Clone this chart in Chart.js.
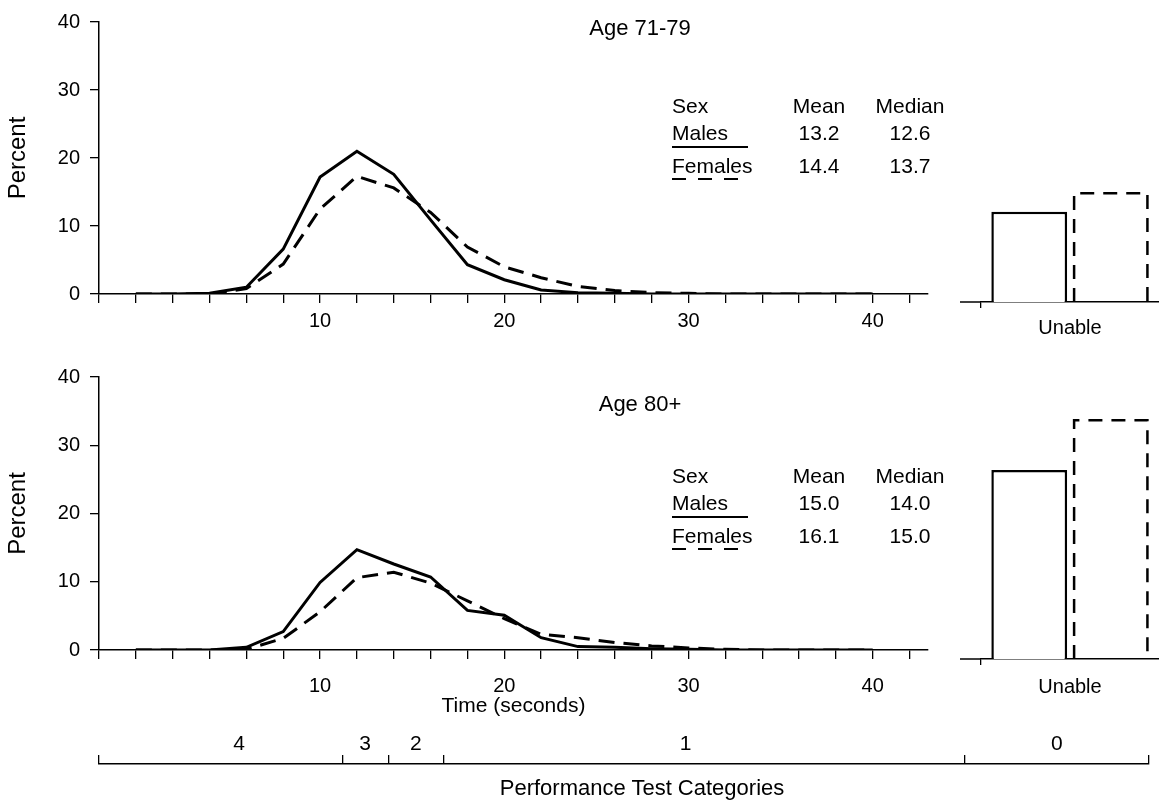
<!DOCTYPE html>
<html>
<head>
<meta charset="utf-8">
<title>Chair stand time by age</title>
<script src="https://cdn.jsdelivr.net/npm/chart.js@4.4.1/dist/chart.umd.min.js"></script>
<style>
  html, body { margin: 0; padding: 0; background: #fff; }
  body { position: relative; width: 1159px; height: 810px; overflow: hidden;
         font-family: "Liberation Sans", Arial, Helvetica, sans-serif; color: #000; }
  canvas { position: absolute; }
  .t { position: absolute; white-space: nowrap; line-height: 1; }
  .c { transform: translateX(-50%); }
  .regua { position: absolute; height: 2px; background: #000; }
  .regua.tracejada { background: repeating-linear-gradient(90deg, #000 0 14px, transparent 14px 26px); }
</style>
</head>
<body>
<canvas id="linhaTopo" width="940" height="340" style="left:0;top:0"></canvas>
<canvas id="barraTopo" width="219" height="345" style="left:940px;top:0"></canvas>
<canvas id="linhaBase" width="940" height="370" style="left:0;top:355px"></canvas>
<canvas id="barraBase" width="219" height="345" style="left:940px;top:355px"></canvas>
<canvas id="categorias" width="1159" height="80" style="left:0;top:730px"></canvas>
<script>
// Tempo em segundos (eixo x) e percentuais
var tempos = [0, 2, 4, 6, 8, 10, 12, 14, 16, 18, 20, 22, 24, 26, 28, 30, 32, 34, 36, 38, 40];

var homens7179   = [0, 0, 0.1, 1.0, 6.6, 17.2, 21.0, 17.6, 10.9, 4.3, 2.1, 0.6, 0.2, 0.1, 0, 0, 0, 0, 0, 0, 0];
var mulheres7179 = [0, 0, 0, 0.8, 4.4, 12.5, 17.3, 15.6, 12.0, 6.9, 4.0, 2.4, 1.1, 0.5, 0.2, 0.1, 0, 0, 0, 0, 0];
var homens80     = [0, 0, 0, 0.4, 2.7, 9.9, 14.7, 12.6, 10.7, 5.8, 5.1, 1.8, 0.5, 0.4, 0.2, 0.1, 0, 0, 0, 0, 0];
var mulheres80   = [0, 0, 0, 0.1, 1.7, 5.6, 10.6, 11.4, 9.8, 7.2, 4.6, 2.3, 1.8, 1.1, 0.6, 0.3, 0.1, 0, 0, 0, 0];

// Percentual "Unable" [homens, mulheres]
var incapazes7179 = [13.2, 16.1];
var incapazes80   = [27.5, 34.9];

// Tabela de médias e medianas
var sexos = ['Males', 'Females'];
var media7179   = ['13.2', '14.4'];
var mediana7179 = ['12.6', '13.7'];
var media80     = ['15.0', '16.1'];
var mediana80   = ['14.0', '15.0'];

// Categorias do teste de desempenho
var nomesCategorias  = ['4', '3', '2', '1', '0'];
var limitesCategorias = [[0, 11.2], [11.2, 13.7], [13.7, 16.7], [16.7, 43], [45, 55]];
var cortesCategorias = [-2, 11.2, 13.7, 16.7, 45, 55];
var centrosCategorias = limitesCategorias.map(function (l) { return (l[0] + l[1]) / 2; });

Chart.defaults.font.family = '"Liberation Sans", Arial, Helvetica, sans-serif';
Chart.defaults.color = '#000';
Chart.defaults.animation = false;

function graficoLinhas(id, homens, mulheres, opts) {
  return new Chart(document.getElementById(id), {
    type: 'line',
    data: {
      labels: tempos,
      datasets: [
        { label: 'Males', data: homens, borderColor: '#000', borderWidth: 3, pointRadius: 0, tension: 0, fill: false },
        { label: 'Females', data: mulheres, borderColor: '#000', borderWidth: 3, borderDash: [16, 9], pointRadius: 0, tension: 0, fill: false }
      ]
    },
    options: {
      responsive: false,
      animation: false,
      layout: { padding: { top: 20, right: 12, left: 0, bottom: 0 } },
      plugins: { legend: { display: false }, tooltip: { enabled: false } },
      scales: {
        x: {
          type: 'linear', min: -2, max: 43,
          border: { display: true, color: '#000', width: 1.5 },
          grid: { drawOnChartArea: false, drawTicks: true, tickLength: 9, color: '#000', lineWidth: 1.3 },
          ticks: {
            stepSize: 2, includeBounds: false, autoSkip: false, maxRotation: 0,
            padding: opts.padX, font: { size: 20 },
            callback: function (v) { return v > 0 && v % 10 === 0 ? v : ''; }
          },
          title: opts.titulo
            ? { display: true, text: opts.titulo, font: { size: 21 }, padding: { top: 0, bottom: 6.4 } }
            : { display: false },
          afterFit: function (s) { s.height = opts.alturaX; }
        },
        y: {
          min: 0, max: 40,
          border: { display: true, color: '#000', width: 1.5 },
          grid: { drawOnChartArea: false, drawTicks: true, tickLength: 9, color: '#000', lineWidth: 1.3 },
          ticks: { stepSize: 10, padding: 10, font: { size: 20 } },
          title: { display: true, text: 'Percent', font: { size: 24 }, padding: { top: 4, bottom: 0 } },
          afterFit: function (s) { s.width = 99; }
        }
      }
    }
  });
}

// contorno tracejado da barra das mulheres
var barraTracejada = {
  id: 'barraTracejada',
  afterDatasetsDraw: function (chart) {
    var c = chart.ctx;
    chart.getDatasetMeta(1).data.forEach(function (bar) {
      var p = bar.getProps(['x', 'y', 'base', 'width'], true);
      var l = p.x - p.width / 2 + 1.25, r = p.x + p.width / 2 - 1.25, t = p.y + 1.25;
      c.save();
      c.setLineDash([14, 9]);
      c.lineWidth = 2.5;
      c.strokeStyle = '#000';
      c.beginPath();
      c.moveTo(l, p.base); c.lineTo(l, t); c.lineTo(r, t); c.lineTo(r, p.base);
      c.stroke();
      c.restore();
    });
  }
};

// pedaço do eixo à esquerda do primeiro tique
var tocoEixo = {
  id: 'tocoEixo',
  afterDraw: function (chart) {
    var a = chart.chartArea, c = chart.ctx;
    c.save();
    c.strokeStyle = '#000';
    c.lineWidth = 1.5;
    c.beginPath(); c.moveTo(a.left - 21, a.bottom); c.lineTo(a.left, a.bottom); c.stroke();
    c.restore();
  }
};

function graficoBarras(id, valores, topo, alturaX, padX) {
  return new Chart(document.getElementById(id), {
    type: 'bar',
    data: {
      labels: ['Unable'],
      datasets: [
        { label: 'Males', data: [valores[0]], backgroundColor: '#fff', borderColor: '#000', borderWidth: 2.5 },
        { label: 'Females', data: [valores[1]], backgroundColor: 'rgba(0,0,0,0)', borderWidth: 0 }
      ]
    },
    options: {
      responsive: false,
      animation: false,
      layout: { padding: { top: topo, left: 41, right: 0, bottom: 0 } },
      datasets: { bar: { categoryPercentage: 0.916, barPercentage: 0.93 } },
      plugins: { legend: { display: false }, tooltip: { enabled: false } },
      scales: {
        x: {
          border: { display: true, color: '#000', width: 1.5 },
          grid: {
            offset: true, drawOnChartArea: false, tickLength: 6, lineWidth: 1.3,
            color: function (c) { return c.index === 0 ? '#000' : 'rgba(0,0,0,0)'; }
          },
          ticks: { padding: padX, font: { size: 20 } },
          afterFit: function (s) { s.height = alturaX; }
        },
        y: { display: false, min: 0, max: 40 }
      }
    },
    plugins: [barraTracejada, tocoEixo]
  });
}

graficoLinhas('linhaTopo', homens7179, mulheres7179, { padX: 6.5, alturaX: 46 });
graficoLinhas('linhaBase', homens80, mulheres80, { padX: 15.5, alturaX: 75, titulo: 'Time (seconds)' });
graficoBarras('barraTopo', incapazes7179, 28.4, 43, 8);
graficoBarras('barraBase', incapazes80, 29, 41, 10);

// régua das categorias
new Chart(document.getElementById('categorias'), {
  type: 'scatter',
  data: { datasets: [] },
  options: {
    responsive: false,
    animation: false,
    layout: { padding: { left: 99, right: 10, top: 0, bottom: 0 } },
    plugins: { legend: { display: false }, tooltip: { enabled: false } },
    scales: {
      x: {
        type: 'linear', position: 'bottom', min: -2, max: 55,
        border: { display: true, color: '#000', width: 1.5 },
        grid: { drawOnChartArea: true, drawTicks: false, color: '#000', lineWidth: 1.3 },
        ticks: { display: false },
        afterBuildTicks: function (s) { s.ticks = cortesCategorias.map(function (v) { return { value: v }; }); },
        afterFit: function (s) { s.height = 46; }
      },
      x2: {
        type: 'linear', axis: 'x', position: 'top', min: -2, max: 55,
        border: { display: false },
        grid: { display: false },
        ticks: {
          autoSkip: false, maxRotation: 0, padding: -10, font: { size: 21 },
          callback: function (v, i) { return nomesCategorias[i]; }
        },
        afterBuildTicks: function (s) { s.ticks = centrosCategorias.map(function (v) { return { value: v }; }); },
        afterFit: function (s) { s.height = 25; }
      },
      y: { display: false, min: 0, max: 1 }
    }
  }
});

// textos fora dos gráficos
function texto(conteudo, x, base, tamanho, centro) {
  var d = document.createElement('div');
  d.className = 't' + (centro ? ' c' : '');
  d.textContent = conteudo;
  d.style.left = x + 'px';
  d.style.top = (base - 0.8465 * tamanho) + 'px';
  d.style.fontSize = tamanho + 'px';
  document.body.appendChild(d);
}

function regua(x, y, largura, tracejada) {
  var d = document.createElement('div');
  d.className = 'regua' + (tracejada ? ' tracejada' : '');
  d.style.left = x + 'px';
  d.style.top = y + 'px';
  d.style.width = largura + 'px';
  document.body.appendChild(d);
}

function tabela(desloc, medias, medianas) {
  texto('Sex', 672, 113 + desloc, 21, false);
  texto('Mean', 819, 113 + desloc, 21, true);
  texto('Median', 910, 113 + desloc, 21, true);
  var bases = [140, 173];
  for (var i = 0; i < sexos.length; i++) {
    texto(sexos[i], 672, bases[i] + desloc, 21, false);
    texto(medias[i], 819, bases[i] + desloc, 21, true);
    texto(medianas[i], 910, bases[i] + desloc, 21, true);
  }
  regua(672, 146 + desloc, 76, false);
  regua(672, 178 + desloc, 70, true);
}

texto('Age 71-79', 640, 36, 22, true);
texto('Age 80+', 640, 412, 22, true);
tabela(0, media7179, mediana7179);
tabela(370, media80, mediana80);
texto('Performance Test Categories', 642, 796, 22, true);
</script>
</body>
</html>
